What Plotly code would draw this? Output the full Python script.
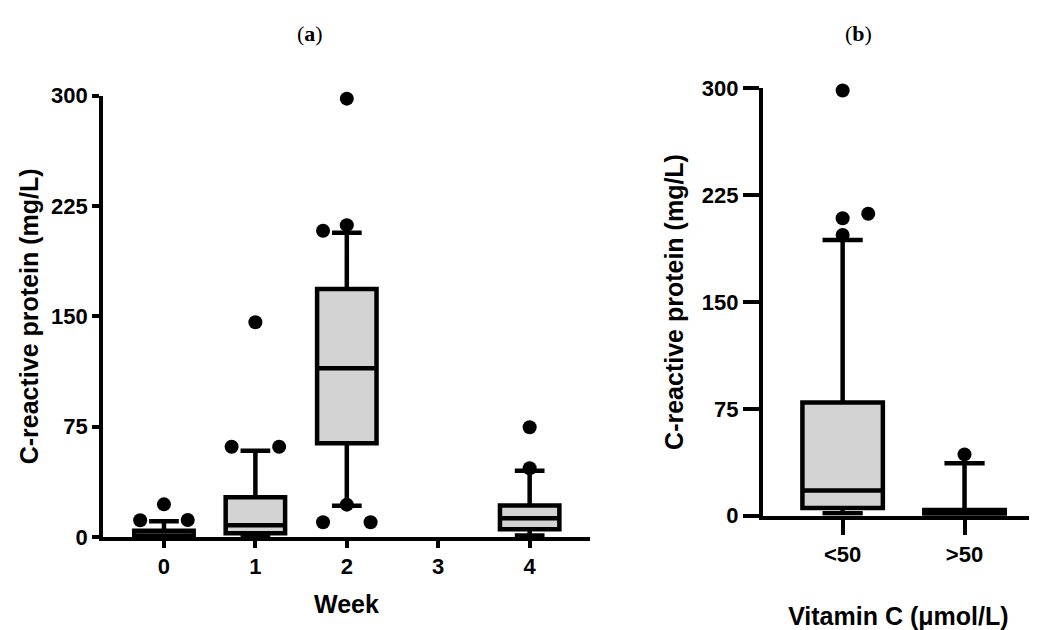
import plotly.graph_objects as go

# ---------------- Panel (a): CRP by week ----------------
weeks = [0, 1, 2, 4]
week_ticks = [0, 1, 2, 3, 4]
a_q1 = [0.3, 2.5, 63.7, 5.2]
a_median = [1.0, 8.0, 114.7, 12.7]
a_q3 = [4.3, 27.0, 168.6, 21.5]
a_low = [0.0, 1.0, 21.3, 1.0]
a_high = [10.7, 58.7, 206.9, 45.0]

# outliers: (group position, value, side: -1 left, 0 centre, +1 right)
a_out_week = [0, 0, 0, 1, 1, 1, 2, 2, 2, 2, 2, 2, 4, 4]
a_out_val = [11.4, 22.2, 11.6, 61.4, 146.0, 61.4, 298.0, 212.0, 208.2, 22.0, 10.0, 10.0, 74.6, 46.7]
a_out_side = [-1, 0, 1, -1, 0, 1, 0, 0, -1, 0, -1, 1, 0, 0]

# ---------------- Panel (b): CRP by vitamin C ----------------
vitc_groups = ["<50", ">50"]
b_q1 = [5.4, 0.3]
b_median = [17.6, 1.0]
b_q3 = [79.4, 4.0]
b_low = [1.7, 0.0]
b_high = [193.6, 36.8]

b_out_group = [0, 0, 0, 0, 1]
b_out_val = [298.5, 208.8, 211.9, 197.0, 43.0]
b_out_side = [0, 0, 1, 0, 0]

y_ticks = [0, 75, 150, 225, 300]

FILL = "#d3d3d3"
LINE_W = 4.5
SPREAD_A = 0.26
SPREAD_B = 0.21
# page has an 8px body margin, so the figure is 8px smaller than the window
W, H = 1029, 622

fig = go.Figure()

fig.add_trace(go.Box(
    x=weeks, q1=a_q1, median=a_median, q3=a_q3,
    lowerfence=a_low, upperfence=a_high,
    width=0.65, whiskerwidth=0.5,
    fillcolor=FILL, line=dict(color="black", width=LINE_W),
    boxpoints=False, xaxis="x", yaxis="y", showlegend=False, hoverinfo="skip",
))
fig.add_trace(go.Scatter(
    x=[w + s * SPREAD_A for w, s in zip(a_out_week, a_out_side)], y=a_out_val,
    mode="markers", marker=dict(color="black", size=14),
    cliponaxis=False, xaxis="x", yaxis="y", showlegend=False,
))

b_pos = list(range(len(vitc_groups)))
fig.add_trace(go.Box(
    x=b_pos, q1=b_q1, median=b_median, q3=b_q3,
    lowerfence=b_low, upperfence=b_high,
    width=0.66, whiskerwidth=0.5,
    fillcolor=FILL, line=dict(color="black", width=LINE_W),
    boxpoints=False, xaxis="x2", yaxis="y2", showlegend=False, hoverinfo="skip",
))
fig.add_trace(go.Scatter(
    x=[g + s * SPREAD_B for g, s in zip(b_out_group, b_out_side)], y=b_out_val,
    mode="markers", marker=dict(color="black", size=14),
    cliponaxis=False, xaxis="x2", yaxis="y2", showlegend=False,
))

tickfont = dict(family="Liberation Sans, Arial", size=22, color="black", weight="bold")
titlefont = dict(family="Liberation Sans, Arial", size=25, color="black", weight="bold")

axis_common = dict(
    showline=True, linecolor="black", linewidth=3.5,
    ticks="outside", tickwidth=3.5, tickcolor="black",
    showgrid=False, zeroline=False, tickfont=tickfont, automargin=False,
)

fig.update_layout(
    width=W, height=H,
    margin=dict(l=0, r=0, t=0, b=0),
    paper_bgcolor="white", plot_bgcolor="white",
    xaxis=dict(domain=[0.0923, 0.5656], range=[-0.667, 4.66], ticklen=7,
               tickvals=week_ticks, ticktext=[str(t) for t in week_ticks],
               anchor="y", title=dict(text="Week", font=titlefont, standoff=18),
               **axis_common),
    yaxis=dict(domain=[0.1495, 0.859], range=[0, 300], tickvals=y_ticks, ticklen=7,
               anchor="x", title=dict(text="C-reactive protein (mg/L)", font=titlefont, standoff=6),
               **axis_common),
    xaxis2=dict(domain=[0.7334, 0.9971], range=[-0.656, 1.57], ticklen=16,
                tickvals=b_pos, ticktext=vitc_groups,
                anchor="y2", title=dict(text="Vitamin C (μmol/L)", font=titlefont, standoff=44),
                **axis_common),
    yaxis2=dict(domain=[0.1838, 0.8709], range=[0, 300], tickvals=y_ticks, ticklen=16,
                anchor="x2", title=dict(text="C-reactive protein (mg/L)", font=titlefont, standoff=12),
                **axis_common),
    annotations=[
        dict(text="(<b>a</b>)", x=302 / W, y=1 - 25 / H, xref="paper", yref="paper",
             xanchor="center", yanchor="middle",
             showarrow=False, font=dict(family="Liberation Serif", size=22, color="black")),
        dict(text="(<b>b</b>)", x=850 / W, y=1 - 25 / H, xref="paper", yref="paper",
             xanchor="center", yanchor="middle",
             showarrow=False, font=dict(family="Liberation Serif", size=22, color="black")),
    ],
)

fig.write_html("out.html")
